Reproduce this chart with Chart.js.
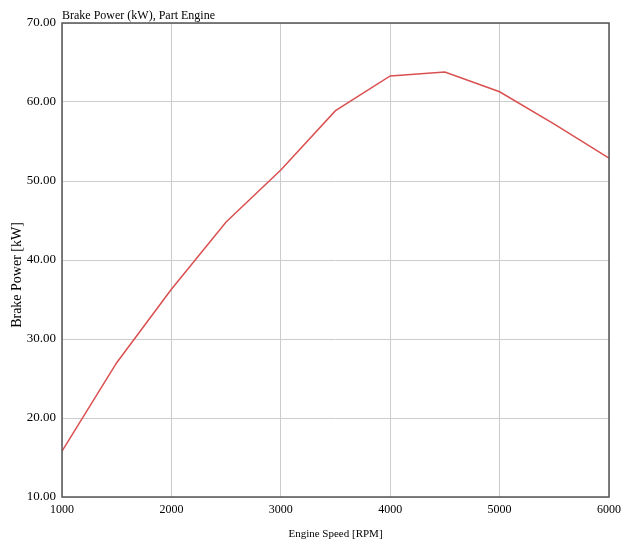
<!DOCTYPE html>
<html><head><meta charset="utf-8">
<script src="https://cdn.jsdelivr.net/npm/chart.js@4"></script>
<style>html,body{margin:0;padding:0;background:#fff}</style>
</head><body>
<canvas id="c" width="621" height="541"></canvas>
<script>
const rpm = [1000,1500,2000,2500,3000,3500,4000,4500,5000,5500,6000];
const brakePower = [15.8,27.0,36.3,44.8,51.4,58.9,63.3,63.8,61.3,57.2,52.9];
const chartTitle = "Brake Power (kW), Part Engine";
const xTitle = "Engine Speed [RPM]";
const yTitle = "Brake Power [kW]";
const FONT = "'Liberation Serif', 'DejaVu Serif', serif";

const boxPlugin = {
  id: 'box',
  afterDraw(chart){
    const {ctx, chartArea:a} = chart;
    ctx.save();
    ctx.strokeStyle = '#555';
    ctx.lineWidth = 1.5;
    ctx.strokeRect(a.left, a.top, a.right-a.left, a.bottom-a.top);
    ctx.fillStyle = '#000';
    ctx.font = "12px " + FONT;
    ctx.textAlign = 'left';
    ctx.textBaseline = 'bottom';
    ctx.fillText(chartTitle, a.left, a.top - 1);
    // y-axis title
    ctx.translate(17, 275);
    ctx.rotate(-Math.PI/2);
    ctx.font = "14px " + FONT;
    ctx.textAlign = 'center';
    ctx.textBaseline = 'middle';
    ctx.fillText(yTitle, 0, 0);
    ctx.restore();
  }
};

new Chart(document.getElementById('c'), {
  type: 'line',
  data: { datasets: [{
    data: rpm.map((x,i)=>({x, y: brakePower[i]})),
    borderColor: 'rgb(218,80,80)',
    borderWidth: 1.5,
    pointRadius: 0,
    tension: 0,
    fill: false
  }]},
  options: {
    responsive: false,
    animation: false,
    layout: { padding: { top: 23, right: 12, left: 0, bottom: 0 } },
    plugins: { legend: { display: false }, tooltip: { enabled: false } },
    scales: {
      x: {
        type: 'linear', min: 1000, max: 6000,
        ticks: { stepSize: 1000, color: '#000', font: { family: FONT, size: 12 }, padding: 6, maxRotation: 0, callback: v => String(v) },
        grid: { color: '#cccccc', drawTicks: false },
        border: { display: false },
        title: { display: true, text: xTitle, color: '#000', font: { family: FONT, size: 11 }, padding: {top: 4, bottom: 0} },
        afterFit(s){ s.height = 44; s.paddingLeft = 0; s.paddingRight = 0; }
      },
      y: {
        min: 10, max: 70,
        ticks: { stepSize: 10, color: '#000', font: { family: FONT, size: 13 }, padding: 6, callback: v => v.toFixed(2) },
        grid: { color: '#cccccc', drawTicks: false },
        border: { display: false },
        title: { display: false },
        afterFit(s){ s.width = 62; s.paddingTop = 0; s.paddingBottom = 0; }
      }
    }
  },
  plugins: [boxPlugin]
});
</script>
</body></html>
